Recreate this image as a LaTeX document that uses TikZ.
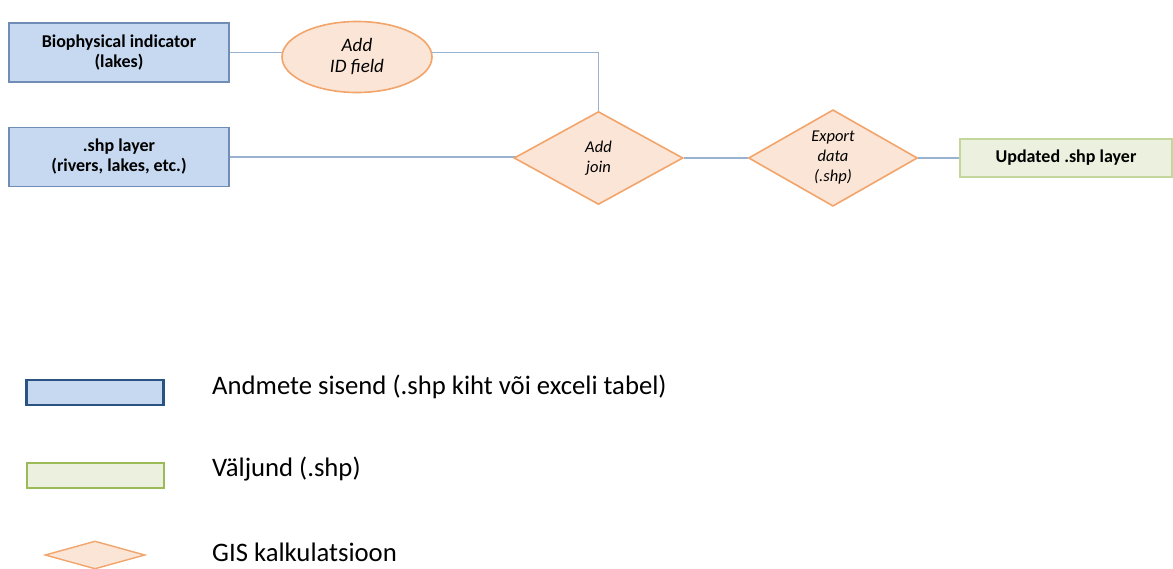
\documentclass[tikz,border=0pt]{standalone}
\usepackage{fontspec}
\setmainfont{Carlito}
\usetikzlibrary{shapes.geometric,backgrounds}
\definecolor{inFill}{HTML}{C6D9F1}
\definecolor{inLine}{HTML}{6F8DB5}
\definecolor{inLineDark}{HTML}{2A5283}
\definecolor{outFill}{HTML}{EBF1DE}
\definecolor{outLine}{HTML}{C3D69B}
\definecolor{outLineDark}{HTML}{9BBB59}
\definecolor{opFill}{HTML}{FBE5D6}
\definecolor{opLine}{HTML}{F2A46B}
\definecolor{wire}{HTML}{98B2CF}
\tikzset{
  inputbox/.style={draw=inLine, fill=inFill, line width=1.4pt, minimum width=220pt, minimum height=59pt, inner sep=0pt, align=center, font=\fontsize{18}{20}\selectfont\bfseries},
  outputbox/.style={draw=outLine, fill=outFill, line width=1.4pt, minimum width=212pt, minimum height=38pt, inner sep=0pt, align=center, font=\fontsize{18}{20}\selectfont\bfseries},
  opellipse/.style={ellipse, draw=opLine, fill=opFill, line width=1.6pt, minimum width=150pt, minimum height=71pt, inner sep=0pt, align=center, font=\fontsize{19}{21}\selectfont\itshape},
  opdiamond/.style={diamond, draw=opLine, fill=opFill, line width=1.6pt, minimum width=169pt, minimum height=93pt, inner sep=0pt, align=center, font=\fontsize{16.5}{20}\selectfont\itshape},
  wireline/.style={draw=wire, line width=1.3pt},
  legendtext/.style={anchor=west, inner sep=0pt, font=\fontsize{26.7}{30}\selectfont},
}
\begin{document}
\begin{tikzpicture}[x=1pt, y=-1pt]
\useasboundingbox (0,0) rectangle (1173,568);

% flow nodes
\node[inputbox] (bio) at (119,52.5) {Biophysical indicator\\(lakes)};
\node[inputbox] (shp) at (119,157) {.shp layer\\(rivers, lakes, etc.)};
\node[opellipse] (idf) at (357,57) {Add\\ID field};
\node[opdiamond] (join) at (598.5,158) {Add\\join};
\node[opdiamond] (exp) at (833,158) {Export\\data\\(.shp)};
\node[outputbox] (upd) at (1066,158) {Updated .shp layer};

% connectors
\begin{scope}[on background layer]
\draw[wireline] (bio.east) -- (bio.east -| idf.center);
\draw[wireline] (bio.east -| idf.center) -| (join.north);
\draw[wireline] (shp.east) -- (shp.east -| join.center);
\draw[wireline] (join.east) -- (exp.west);
\draw[wireline] (exp.east) -- (upd.west);
\end{scope}

% legend
\node[draw=inLineDark, fill=inFill, line width=2.2pt, minimum width=137pt, minimum height=25pt, inner sep=0pt] (legIn) at (95,392.5) {};
\node[draw=outLineDark, fill=outFill, line width=2pt, minimum width=137pt, minimum height=25pt, inner sep=0pt] (legOut) at (95,475) {};
\node[diamond, draw=opLine, fill=opFill, line width=1.4pt, minimum width=100pt, minimum height=28pt, inner sep=0pt] (legOp) at (95,555) {};
\node[legendtext] (legInT) at (212,387) {Andmete sisend (.shp kiht või exceli tabel)};
\node[legendtext] (legOutT) at (212,469) {Väljund (.shp)};
\node[legendtext] (legOpT) at (212,552) {GIS kalkulatsioon};
\end{tikzpicture}
\end{document}
